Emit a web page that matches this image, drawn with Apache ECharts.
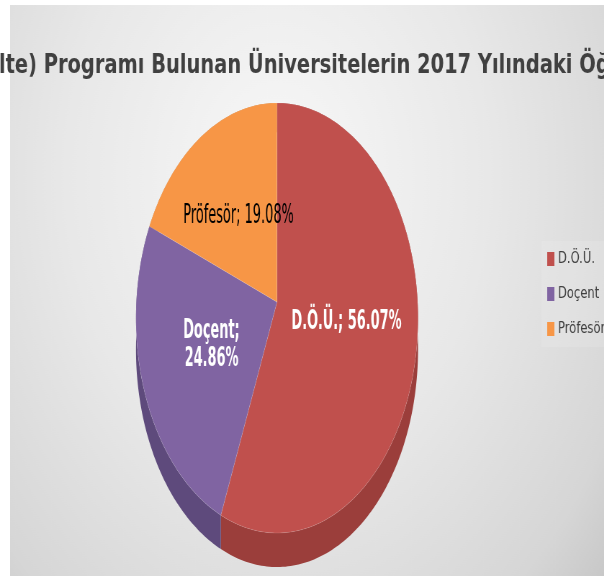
<!DOCTYPE html>
<html>
<head>
<meta charset="utf-8">
<script src="https://cdn.jsdelivr.net/npm/echarts@6/dist/echarts.min.js"></script>
<style>
    html, body { margin: 0; padding: 0; background: #fff; }
    #wrap { position: absolute; left: 0; top: 0; width: 604px; height: 576px; overflow: hidden; background: #fff; }
    /* the original picture is squeezed horizontally, so draw wide and squeeze */
    #main { width: 839px; height: 576px; transform: scaleX(0.72); transform-origin: 0 0; }
</style>
</head>
<body>
<div id="wrap"><div id="main"></div></div>
<script>
// veri
const categories = ['D.Ö.Ü.', 'Doçent', 'Pröfesör']
const values = [56.07, 24.86, 19.08]
const titleText = 'Hemşirelik (Fakülte) Programı Bulunan Üniversitelerin 2017 Yılındaki Öğretim Elemanı Dağılımı'
const hiddenPrefix = 'Hemşirelik (Fakü'

const topColors = ['#c0504d', '#8064a2', '#f79646']
const sideColors = ['#9b3e3b', '#5e4a7c', '#c0722f']
const labelColors = ['#ffffff', '#ffffff', '#000000']
const labelBold = [true, true, false]
const labelWrap = [false, true, false]

// tilted pie seen in perspective (unsqueezed px)
const cx = 384.7, cy = 302, A = 195.3, B = 213.8, persp = 0.0744, depth = 31.5
const labelSquash = 0.69
const fontFamily = 'DejaVu Sans'

const total = values.reduce((a, b) => a + b, 0)
const startAngle = i => values.slice(0, i).reduce((a, b) => a + b, 0) / total * Math.PI * 2
const endAngle = i => startAngle(i) + values[i] / total * Math.PI * 2
const project = (a, r, drop) => {
    const u = r * Math.sin(a), v = r * Math.cos(a)
    const w = 1 + persp * v
    return [cx + A * u / w, cy - B * v / w + (drop ? depth / w : 0)]
}

const arc = (a0, a1, drop) => {
    const pts = []
    const n = Math.max(2, Math.ceil((a1 - a0) / (Math.PI / 180)))
    for (let k = 0; k <= n; k++) pts.push(project(a0 + (a1 - a0) * k / n, 1, drop))
    return pts
}

const renderTop = i => () => {
    const a0 = startAngle(i), a1 = endAngle(i), mid = (a0 + a1) / 2
    const pts = [[cx, cy]].concat(arc(a0, a1, false))
    const txt = categories[i] + ';' + (labelWrap[i] ? '\n' : ' ') + values[i].toFixed(2) + '%'
    const pos = project(mid, 0.5, false)
    return {
        type: 'group',
        children: [
            { type: 'polygon', shape: { points: pts }, style: { fill: topColors[i], stroke: 'rgba(255,255,255,0.2)', lineWidth: 0.6 } },
            {
                type: 'text',
                x: pos[0], y: pos[1],
                scaleX: labelSquash,
                style: {
                    text: txt, x: 0, y: 0,
                    fill: labelColors[i],
                    fontSize: 26,
                    lineHeight: 28,
                    fontWeight: labelBold[i] ? 'bold' : 'normal',
                    fontFamily: fontFamily,
                    align: 'center',
                    verticalAlign: 'middle'
                }
            }
        ]
    }
}

const renderSide = i => () => {
    const a0 = startAngle(i), a1 = endAngle(i)
    const pts = arc(a0, a1, false).concat(arc(a0, a1, true).reverse())
    return { type: 'polygon', shape: { points: pts }, style: { fill: sideColors[i] } }
}

// title offset so that the visible part starts at the left edge
const ctx = document.createElement('canvas').getContext('2d')
ctx.font = 'bold 27px ' + fontFamily
const titleLeft = -Math.round(ctx.measureText(hiddenPrefix).width) - 2

const series = []
categories.forEach((name, i) => {
    series.push({ type: 'custom', name: name, coordinateSystem: 'none', z: 3, data: [values[i]], itemStyle: { color: topColors[i] }, renderItem: renderTop(i), silent: true })
})
categories.forEach((name, i) => {
    series.push({ type: 'custom', name: name, coordinateSystem: 'none', z: 2, data: [values[i]], itemStyle: { color: sideColors[i] }, renderItem: renderSide(i), silent: true })
})

const chart = echarts.init(document.getElementById('main'), null, { renderer: 'canvas' })
chart.setOption({
    animation: false,
    backgroundColor: 'transparent',
    graphic: [{
        type: 'rect',
        z: -10,
        left: 14, top: 5,
        shape: { width: 825, height: 571 },
        style: {
            fill: {
                type: 'radial', x: 0.45, y: 0.3, r: 1.15,
                colorStops: [
                    { offset: 0, color: '#f8f8f8' },
                    { offset: 0.45, color: '#e8e8e8' },
                    { offset: 0.8, color: '#d6d6d6' },
                    { offset: 1, color: '#bfbfbf' }
                ]
            }
        }
    }],
    title: {
        text: titleText,
        left: titleLeft,
        top: 52,
        padding: 0,
        textStyle: { fontSize: 27, fontWeight: 'bold', color: '#404040', fontFamily: fontFamily }
    },
    legend: {
        data: categories,
        orient: 'vertical',
        left: 752,
        top: 241,
        padding: [10, 8],
        backgroundColor: 'rgba(255,255,255,0.12)',
        icon: 'rect',
        itemWidth: 10,
        itemHeight: 14,
        itemGap: 19,
        selectedMode: false,
        textStyle: { fontSize: 16, color: '#404040', fontFamily: fontFamily }
    },
    series: series
})
</script>
</body>
</html>
